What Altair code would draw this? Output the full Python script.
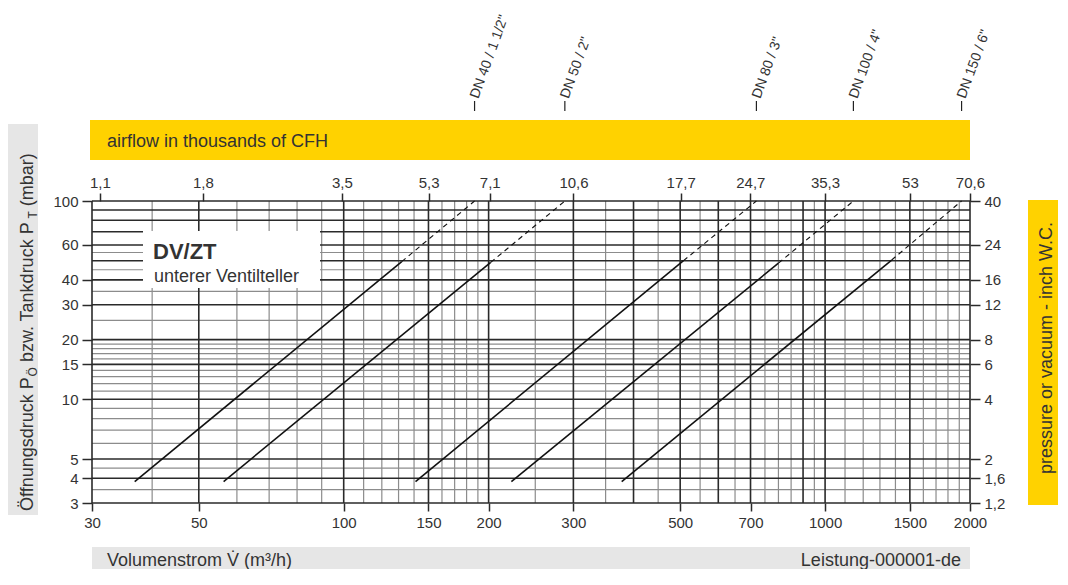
import altair as alt
import pandas as pd

# Kennlinien DV/ZT: Volumenstrom (m³/h) und Druck (mbar)
dn_names = ['DN 40 / 1 1/2"', 'DN 50 / 2"', 'DN 80 / 3"', 'DN 100 / 4"', 'DN 150 / 6"']
flow_start = [36.8, 56.3, 141, 223, 378]
flow_solid_end = [132, 202, 508, 800, 1375]
flow_end = [187, 288, 720, 1145, 1921]
p_start = [3.85, 3.85, 3.85, 3.85, 3.85]
p_solid_end = [49.5, 49, 50, 48.6, 50.4]
p_end = [100, 100, 100, 100, 100]

# Achsbeschriftungen
x_ticks = [30, 50, 100, 150, 200, 300, 500, 700, 1000, 1500, 2000]
y_ticks = [3, 4, 5, 10, 15, 20, 30, 40, 60, 100]
cfh_ticks = [1.1, 1.8, 3.5, 5.3, 7.1, 10.6, 17.7, 24.7, 35.3, 53, 70.6]
wc_ticks = [1.2, 1.6, 2, 4, 6, 8, 12, 16, 24, 40]

# Gitternetz
x_grid_major = [30, 50, 100, 150, 200, 300, 400, 500, 600, 700, 900, 1000, 1500, 2000]
x_grid_minor = [40, 60, 70, 80, 90, 110, 120, 130, 140, 160, 170, 180, 190, 250,
                350, 450, 550, 650, 750, 800, 850, 950,
                1100, 1200, 1300, 1400, 1600, 1700, 1800, 1900]
y_grid_major = [3, 4, 5, 10, 15, 20, 30, 40, 50, 60, 70, 80, 90, 100]
y_grid_minor = [3.5, 4.5, 6, 7, 8, 9, 11, 12, 13, 14, 16, 17, 18, 19, 25, 35, 45, 55]

W, H = 878, 302
FONT = 'Liberation Sans'
TXT = '#333333'
YELLOW = '#FFD200'
GREY = '#E6E6E6'
M3H_TO_KCFH = 0.0353147

xs = alt.Scale(type='log', domain=[30, 2000], nice=False)
ys = alt.Scale(type='log', domain=[3, 100], nice=False)
one = pd.DataFrame({'k': [0]})

tick_style = dict(grid=False, domain=False, tickColor='#2a2a2a', tickWidth=1.5,
                  labelFont=FONT, labelFontSize=15, labelColor=TXT,
                  labelOverlap=False, labelFlush=False, title=None)


def box(x, x2, y, y2, color):
    return alt.Chart(one).mark_rect(color=color).encode(
        x=alt.value(x), x2=alt.value(x2), y=alt.value(y), y2=alt.value(y2))


def label(text, x, y, size=18, **kw):
    return alt.Chart(one).mark_text(text=text, font=FONT, fontSize=size, color=TXT, **kw).encode(
        x=alt.value(x), y=alt.value(y))


# --- Gitter (Hauptachsen unten / links hängen an den kräftigen Linien)
v_minor = alt.Chart(pd.DataFrame({'v': x_grid_minor})).mark_rule(
    color='#8c8c8c', strokeWidth=1.2).encode(x=alt.X('v:Q', scale=xs, axis=None))
v_major = alt.Chart(pd.DataFrame({'v': x_grid_major})).mark_rule(
    color='#2a2a2a', strokeWidth=1.6).encode(
    x=alt.X('v:Q', scale=xs, axis=alt.Axis(
        values=x_ticks, format='d', orient='bottom', tickSize=8, labelPadding=4, **tick_style)))
h_minor = alt.Chart(pd.DataFrame({'h': y_grid_minor})).mark_rule(
    color='#8c8c8c', strokeWidth=1.2).encode(y=alt.Y('h:Q', scale=ys, axis=None))
h_major = alt.Chart(pd.DataFrame({'h': y_grid_major})).mark_rule(
    color='#2a2a2a', strokeWidth=1.6).encode(
    y=alt.Y('h:Q', scale=ys, axis=alt.Axis(
        values=y_ticks, format='d', orient='left', tickSize=10, labelPadding=4, **tick_style)))

# --- Zweitachsen: tausend CFH oben, inch W.C. rechts
top_axis = alt.Chart(pd.DataFrame({'cfh': cfh_ticks})).mark_rule(opacity=0).encode(
    x=alt.X('cfh:Q',
            scale=alt.Scale(type='log', domain=[30 * M3H_TO_KCFH, 2000 * M3H_TO_KCFH], nice=False),
            axis=alt.Axis(values=cfh_ticks, orient='top', tickSize=8, labelPadding=3,
                          labelExpr="replace(toString(datum.value), '.', ',')", **tick_style)))
right_axis = alt.Chart(pd.DataFrame({'wc': wc_ticks})).mark_rule(opacity=0).encode(
    y=alt.Y('wc:Q',
            scale=alt.Scale(type='log', domain=[1.2, 40], nice=False),
            axis=alt.Axis(values=wc_ticks, orient='right', tickSize=10, labelPadding=4,
                          labelExpr="replace(toString(datum.value), '.', ',')", **tick_style)))

# --- Legendenkasten
legend_box = box(51, 228, 30, 87, 'white')
legend_title = label('DV/ZT', 61, 57.5, size=22, fontWeight='bold', align='left', baseline='alphabetic')
legend_sub = label('unterer Ventilteller', 62, 81, size=18, align='left', baseline='alphabetic')

# --- Kennlinien: durchgezogen bis ca. 50 mbar, darüber gestrichelt
solid_df = pd.DataFrame({'dn': dn_names * 2, 'flow': flow_start + flow_solid_end,
                         'p': p_start + p_solid_end})
dash_df = pd.DataFrame({'dn': dn_names * 2, 'flow': flow_solid_end + flow_end,
                        'p': p_solid_end + p_end})
solid = alt.Chart(solid_df).mark_line(color='#111111', strokeWidth=1.6).encode(
    x=alt.X('flow:Q', scale=xs, axis=None), y=alt.Y('p:Q', scale=ys, axis=None), detail='dn:N')
dashed = alt.Chart(dash_df).mark_line(color='#111111', strokeWidth=1.1, strokeDash=[5, 4]).encode(
    x=alt.X('flow:Q', scale=xs, axis=None), y=alt.Y('p:Q', scale=ys, axis=None), detail='dn:N')

# --- DN-Beschriftung oben
ends_df = pd.DataFrame({'dn': dn_names, 'flow': flow_end})
dn_marks = alt.Chart(ends_df).mark_rule(color='#222222', strokeWidth=1.2).encode(
    x=alt.X('flow:Q', scale=xs, axis=None), y=alt.value(-100), y2=alt.value(-90))
dn_text = alt.Chart(ends_df).mark_text(
    angle=290, align='left', baseline='middle', font=FONT, fontSize=14, color=TXT).encode(
    x=alt.X('flow:Q', scale=xs, axis=None), y=alt.value(-103), text='dn:N')

# --- Kästen außerhalb des Diagramms
top_band = box(-2, 878, -81, -41, YELLOW)
top_band_text = label('airflow in thousands of CFH', 15, -54, align='left', baseline='alphabetic')

right_band = box(936, 976, -1, 304, YELLOW)
right_band_text = label('pressure or vacuum - inch W.C.', 955, 147, angle=270,
                        align='center', baseline='middle')

left_band = box(-92, -54, -77, 314, GREY)
left_parts = [
    label('Öffnungsdruck P', -59, 310, angle=270, align='left', baseline='alphabetic'),
    label('Ö', -55, 175.4, size=12, angle=270, align='left', baseline='alphabetic'),
    label('bzw. Tankdruck P', -59, 161.1, angle=270, align='left', baseline='alphabetic'),
    label('T', -55, 17.6, size=12, angle=270, align='left', baseline='alphabetic'),
    label('(mbar)', -59, 5.3, angle=270, align='left', baseline='alphabetic'),
]

bottom_band = box(0, 878, 346, 400, GREY)
bottom_left = label('Volumenstrom V\u0307 (m³/h)', 15, 360, align='left', baseline='middle')
bottom_right = label('Leistung-000001-de', 869, 360, align='right', baseline='middle')

chart = alt.layer(
    top_band, right_band, left_band, bottom_band,
    v_minor, h_minor, v_major, h_major, top_axis, right_axis,
    legend_box, legend_title, legend_sub,
    solid, dashed, dn_marks, dn_text,
    top_band_text, right_band_text, *left_parts, bottom_left, bottom_right,
).resolve_scale(
    x='independent', y='independent'
).properties(
    width=W, height=H,
    padding={'left': 84, 'top': 193, 'right': 88, 'bottom': 66},
    autosize=alt.AutoSizeParams(type='none'),
).configure_view(strokeWidth=0)

chart.save('out.html', embed_options={'renderer': 'svg', 'actions': False})
